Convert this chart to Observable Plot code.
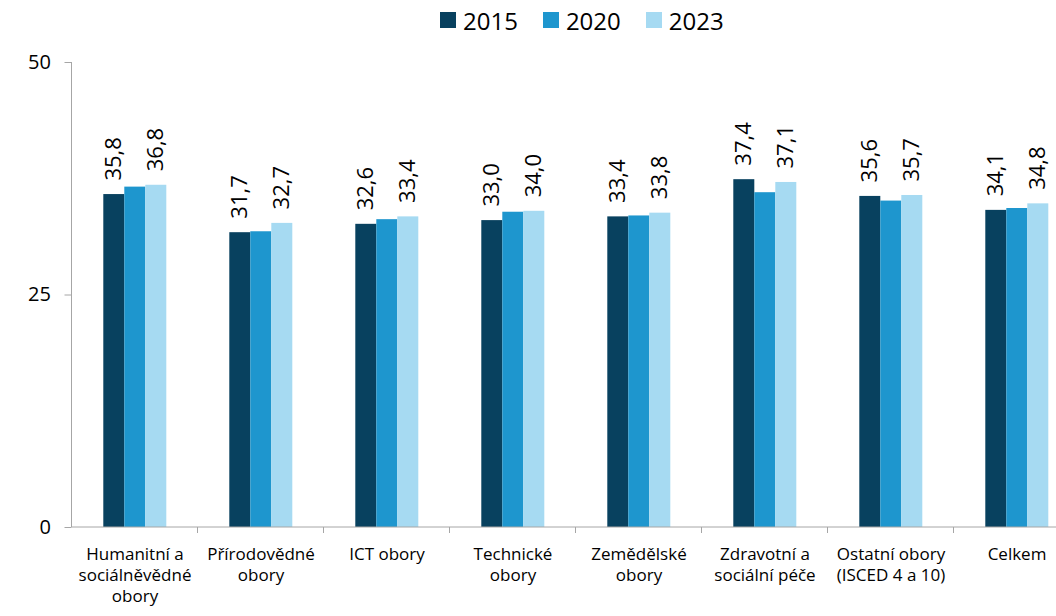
<!DOCTYPE html>
<html><head><meta charset="utf-8">
<script src="https://cdn.jsdelivr.net/npm/d3@7"></script>
<script src="https://cdn.jsdelivr.net/npm/@observablehq/plot@0.6"></script>
<style>
html,body{margin:0;padding:0;overflow:hidden;background:#fff;font-family:"Open Sans",sans-serif;}
#legend{height:40px;display:flex;align-items:center;padding-left:440px;box-sizing:border-box;}
.item{display:flex;align-items:center;margin-right:25px;font-size:24px;color:#000;}
.sw{width:16px;height:16px;margin-right:7px;}
#chart svg{overflow:visible;}
</style></head><body>
<div id="legend"></div><div id="chart"></div>
<script>
const categories = ["Humanitní a sociálněvědné obory","Přírodovědné obory","ICT obory","Technické obory","Zemědělské obory","Zdravotní a sociální péče","Ostatní obory (ISCED 4 a 10)","Celkem"];
const categoryLabels = ["Humanitní a\nsociálněvědné\nobory","Přírodovědné\nobory","ICT obory","Technické\nobory","Zemědělské\nobory","Zdravotní a\nsociální péče","Ostatní obory\n(ISCED 4 a 10)","Celkem"];
const years = ["2015","2020","2023"];
const values2015 = [35.8,31.7,32.6,33.0,33.4,37.4,35.6,34.1];
const values2020 = [36.6,31.8,33.1,33.9,33.5,36.0,35.1,34.3];
const values2023 = [36.8,32.7,33.4,34.0,33.8,37.1,35.7,34.8];
const labeledYears = ["2015","2023"];
const colors = ["#08415f","#1e96ce","#a6daf2"];
const yTicks = [0,25,50];

const series = [values2015, values2020, values2023];
const data = [];
categories.forEach((c,i)=>years.forEach((y,j)=>data.push({cat:c, year:y, value:series[j][i]})));
const labelOf = new Map(categories.map((c,i)=>[c,categoryLabels[i]]));
const fmt = v => v.toFixed(1).replace(".", ",");

// legend
const lg = document.getElementById("legend");
years.forEach((y,j)=>{
  const it = document.createElement("div"); it.className="item";
  const sw = document.createElement("div"); sw.className="sw"; sw.style.background=colors[j];
  const t = document.createElement("span"); t.textContent=y;
  it.appendChild(sw); it.appendChild(t); lg.appendChild(it);
});

const W = 1056, H = 576;
function makePlot(axisDx) {
  return Plot.plot({
    width: W, height: H,
    marginTop: 22, marginBottom: 89, marginLeft: 70.7, marginRight: -23.5,
    style: {fontFamily: "Open Sans, sans-serif", background: "white", overflow: "visible"},
    fx: {domain: categories, paddingInner: 0.485, paddingOuter: 0.2425, label: null},
    x: {domain: years, padding: 0, axis: null},
    y: {domain: [0,50], label: null},
    color: {domain: years, range: colors},
    marks: [
      Plot.barY(data, {fx:"cat", x:"year", y:"value", fill:"year"}),
      Plot.text(data.filter(d=>labeledYears.includes(d.year)), {fx:"cat", x:"year", y:"value", text: d=>fmt(d.value), rotate:-90, textAnchor:"start", dy:-14, fontSize:22, fill:"#000"}),
      Plot.axisY({ticks: yTicks, tickSize: 7, tickPadding: 14, fontSize: 20, stroke:"#a6a6a6", color:"#000", label:null, dx: axisDx}),
      Plot.axisFx({anchor:"bottom", tickSize:0, tickPadding: 17, fontSize:17, lineHeight:1.25, tickFormat: c=>labelOf.get(c), label:null})
    ]
  });
}
// first pass to read the facet band geometry, second pass to place the y axis at the band edge
const probe = makePlot(0);
const pf = probe.scale("fx");
const gap = ((pf.apply(categories[1]) - pf.apply(categories[0])) - pf.bandwidth) / 2;
const plot = makePlot(-gap);
document.getElementById("chart").appendChild(plot);

// axis lines and category boundary ticks drawn from Plot's scales
const svg = d3.select(plot);
const ys = plot.scale("y"), fxs = plot.scale("fx");
const y0 = ys.apply(0), y50 = ys.apply(50);
const left = fxs.apply(categories[0]) - gap;
const right = fxs.apply(categories[categories.length-1]) + fxs.bandwidth + gap;
const g = svg.append("g").attr("stroke","#a6a6a6").attr("stroke-width",1);
g.append("line").attr("x1",left).attr("x2",left).attr("y1",y50).attr("y2",y0);
g.append("line").attr("x1",left).attr("x2",right).attr("y1",y0).attr("y2",y0);
categories.forEach((c,i)=>{
  if(i===0) return;
  const x = fxs.apply(c) - gap;
  g.append("line").attr("x1",x).attr("x2",x).attr("y1",y0).attr("y2",y0+6);
});
</script>
</body></html>
